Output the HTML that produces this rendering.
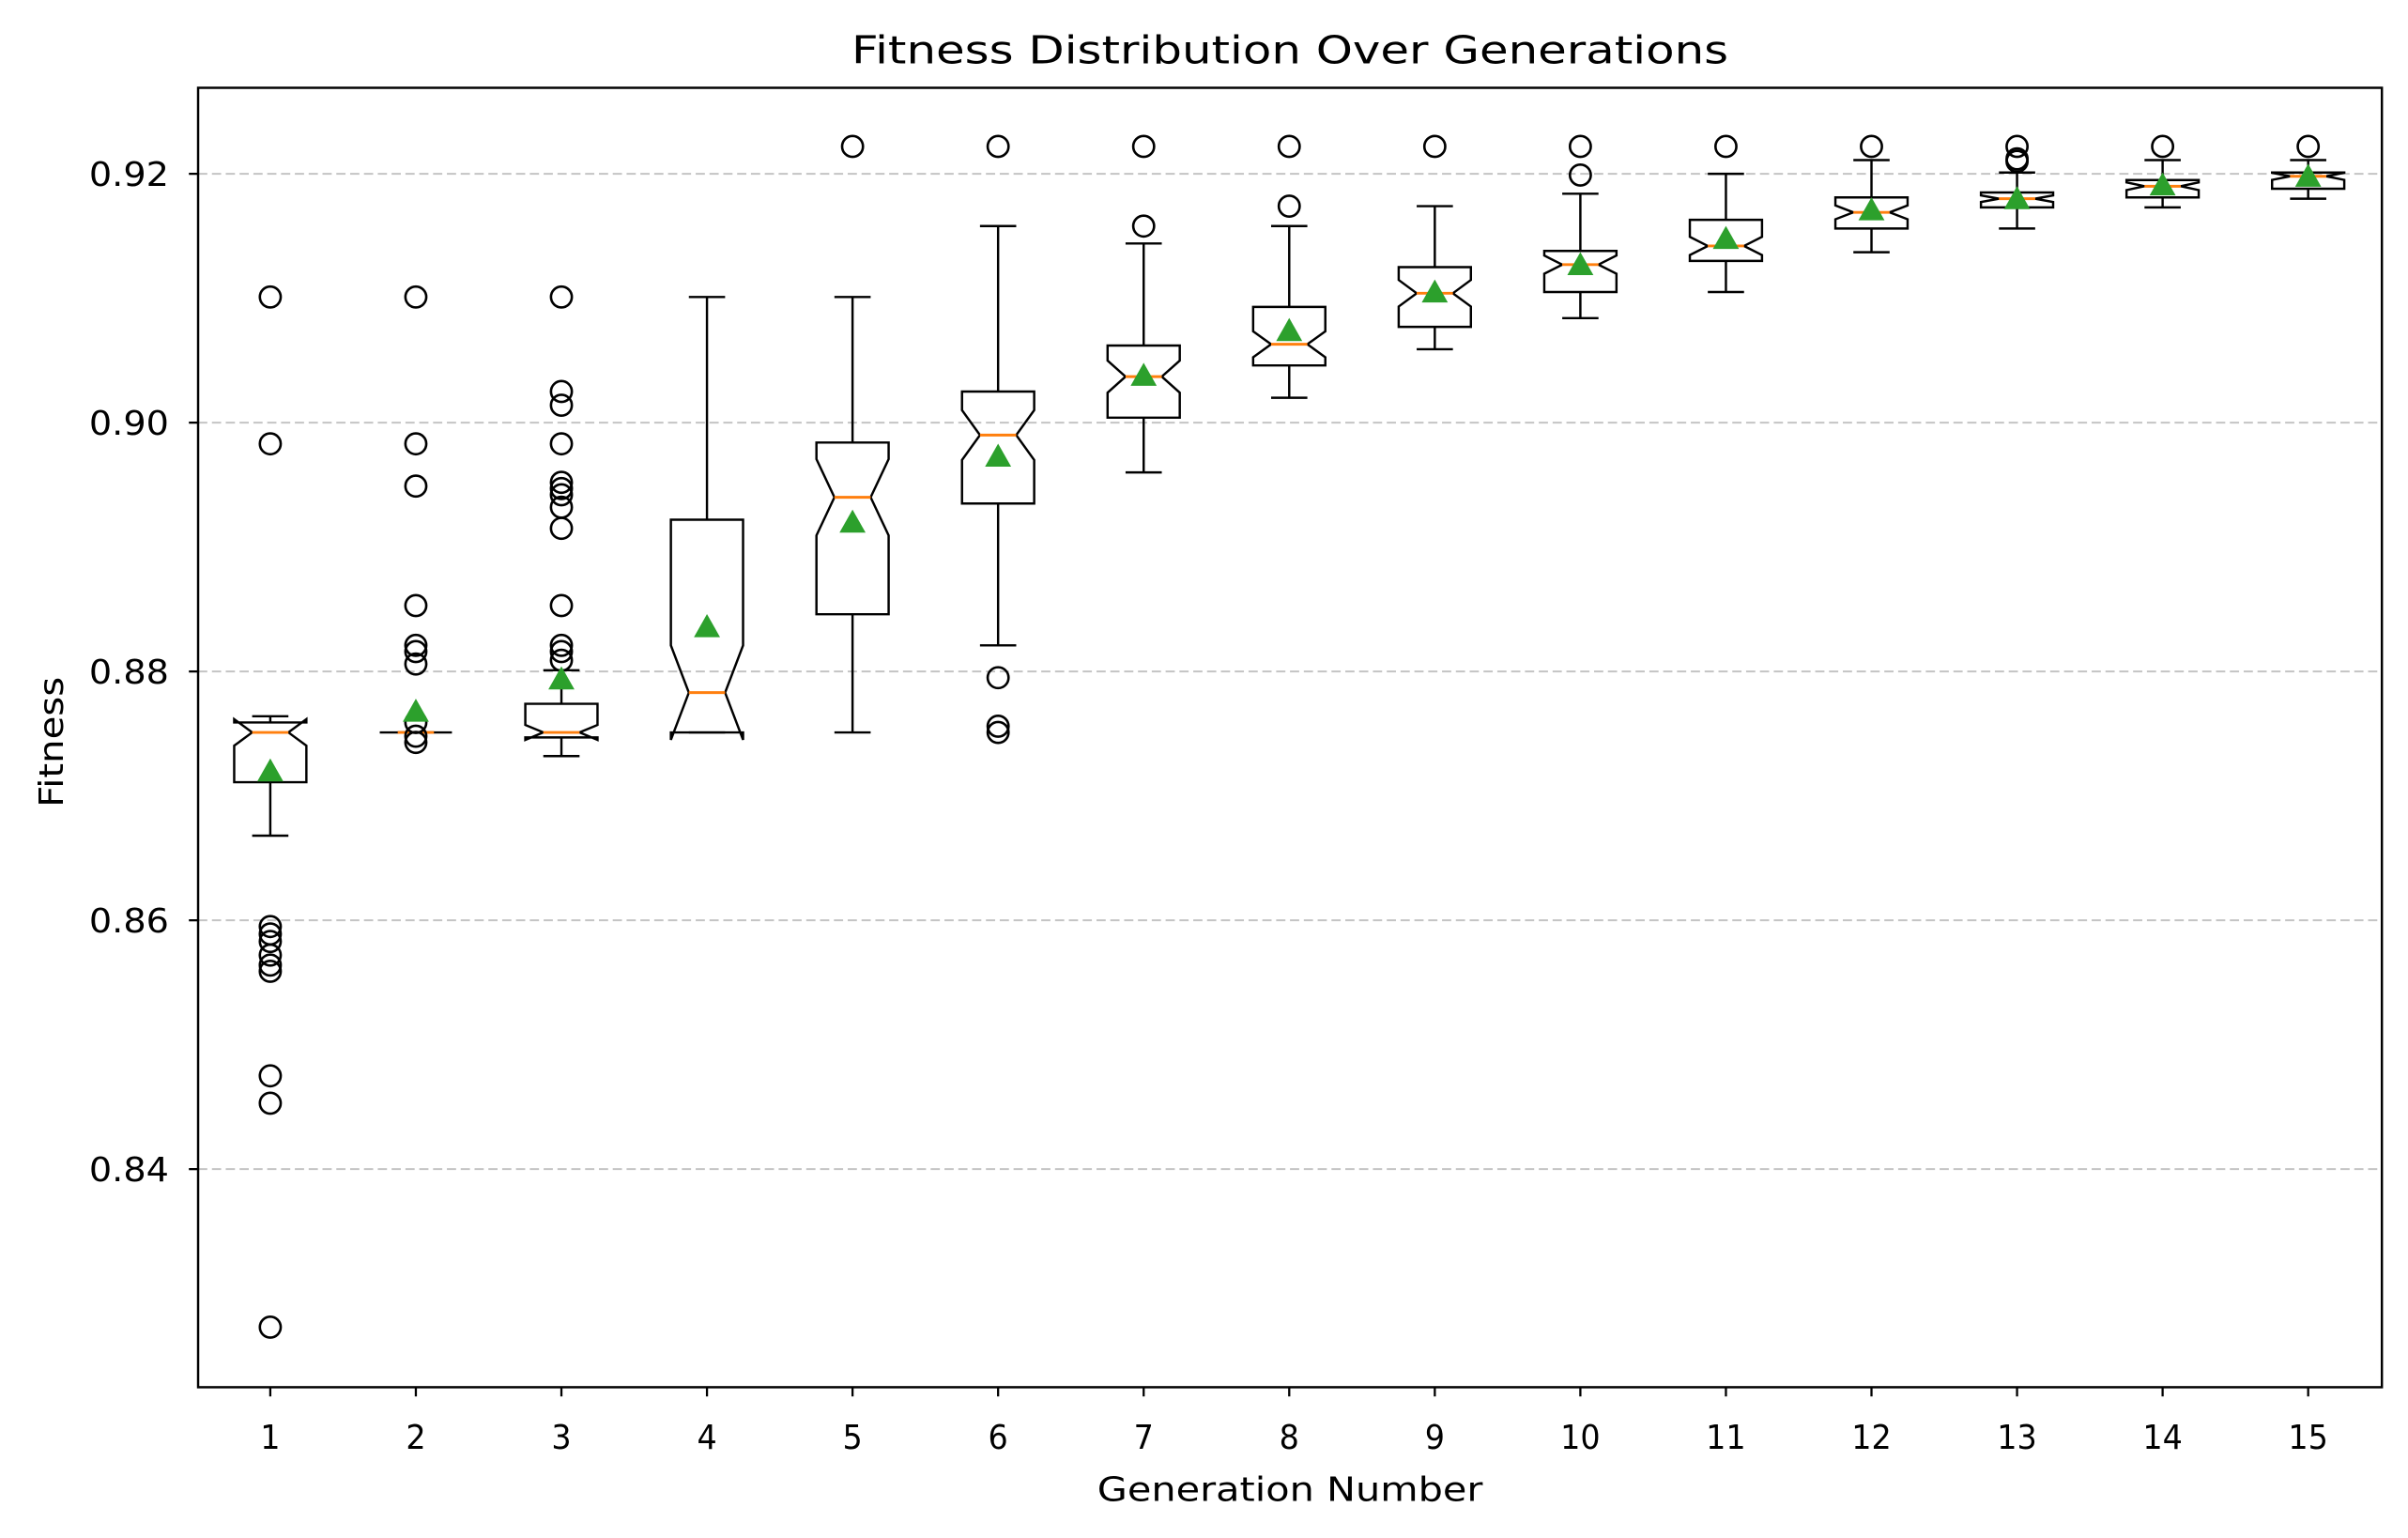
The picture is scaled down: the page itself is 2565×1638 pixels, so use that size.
<!DOCTYPE html>
<html><head><meta charset="utf-8"><style>
html,body{margin:0;padding:0;background:#fff;}
svg{display:block;font-family:"DejaVu Sans","Liberation Sans",sans-serif;}
</style></head><body>
<svg id="chart" width="2565" height="1638" viewBox="0 0 1568 1001" xmlns="http://www.w3.org/2000/svg">
<rect x="0" y="0" width="1568" height="1001" fill="#fff"/>
<text x="840" y="41" font-size="25" text-anchor="middle" textLength="571" lengthAdjust="spacingAndGlyphs">Fitness Distribution Over Generations</text>
<text x="840" y="977" font-size="21.5" text-anchor="middle" textLength="251" lengthAdjust="spacingAndGlyphs">Generation Number</text>
<text x="41" y="483" font-size="21.5" text-anchor="middle" textLength="85" lengthAdjust="spacingAndGlyphs" transform="rotate(-90 41 483)">Fitness</text>
<g id="grid"></g><g id="boxes"></g><g id="axes"></g>
</svg>
<script>
const generations=[1,2,3,4,5,6,7,8,9,10,11,12,13,14,15];
const whiskerHigh=[0.8764,0.8751,0.8801,0.9101,0.9101,0.9158,0.9144,0.9158,0.9174,0.9184,0.9200,0.9211,0.9201,0.9211,0.9211];
const q3Values=[0.8759,0.8751,0.8774,0.8922,0.8984,0.9025,0.9062,0.9093,0.9125,0.9138,0.9163,0.9181,0.9185,0.9195,0.9201];
const medians=[0.8751,0.8751,0.8751,0.8783,0.8940,0.8990,0.9037,0.9063,0.9104,0.9127,0.9142,0.9169,0.9180,0.9190,0.9198];
const q1Values=[0.8711,0.8751,0.8747,0.8751,0.8846,0.8935,0.9004,0.9046,0.9077,0.9105,0.9130,0.9156,0.9173,0.9181,0.9188];
const whiskerLow=[0.8668,0.8751,0.8732,0.8751,0.8751,0.8821,0.8960,0.9020,0.9059,0.9084,0.9105,0.9137,0.9156,0.9173,0.9180];
const means=[0.8719,0.8767,0.8793,0.8835,0.8919,0.8972,0.9037,0.9073,0.9104,0.9126,0.9147,0.9170,0.9179,0.9190,0.9197];
const outliers=[
[0.9101,0.8983,0.8595,0.8589,0.8583,0.8572,0.8564,0.8559,0.8475,0.8453,0.8273],
[0.9101,0.8983,0.8949,0.8853,0.8821,0.8816,0.8806,0.8759,0.8748,0.8743],
[0.9101,0.9025,0.9014,0.8983,0.8952,0.8947,0.8942,0.8932,0.8915,0.8853,0.8821,0.8816,0.8809],
[],
[0.9222],
[0.9222,0.8795,0.8756,0.8751],
[0.9222,0.9158],
[0.9222,0.9174],
[0.9222],
[0.9222,0.9199],
[0.9222],
[0.9222],
[0.9222,0.9212,0.9210],
[0.9222],
[0.9222]];
const yTicks=[0.84,0.86,0.88,0.90,0.92];
const yTickLabels=["0.84","0.86","0.88","0.90","0.92"];
const sampleSize=50;

const L=129,R=1551,T=57,B=903;
function xs(g){return 176+(g-1)*(1503-176)/14;}
function ys(v){return 113+(0.92-v)*8100;}
const NS="http://www.w3.org/2000/svg";
function mk(tag,attrs,parent){const e=document.createElementNS(NS,tag);for(const k in attrs)e.setAttribute(k,attrs[k]);parent.appendChild(e);return e;}
const grid=document.getElementById('grid'),boxes=document.getElementById('boxes'),axes=document.getElementById('axes');

yTicks.forEach((t,i)=>{
  const y=ys(t);
  const gl=mk('line',{x1:L,x2:R,y1:y,y2:y,stroke:'#c4c4c4','stroke-width':1.2,'stroke-dasharray':'6,3'},grid);
  
  
  mk('line',{x1:L-6,x2:L,y1:y,y2:y,stroke:'#000','stroke-width':1.4},axes);
  const tl=mk('text',{x:L-19,y:y+8,'font-size':21.5,'text-anchor':'end',textLength:52,lengthAdjust:'spacingAndGlyphs'},axes);
  tl.textContent=yTickLabels[i];
  
  
});
generations.forEach((g,i)=>{
  const x=xs(g),hw=23.5,cw=11.8,nw=11.8;
  const grp=mk('g',{},boxes);
  
  
  const iqr=q3Values[i]-q1Values[i];
  const nh=1.57*iqr/Math.sqrt(sampleSize);
  const nlo=medians[i]-nh,nhi=medians[i]+nh;
  const st={stroke:'#000','stroke-width':1.5,fill:'none'};
  mk('line',Object.assign({x1:x,x2:x,y1:ys(q3Values[i]),y2:ys(whiskerHigh[i])},st),grp);
  mk('line',Object.assign({x1:x,x2:x,y1:ys(q1Values[i]),y2:ys(whiskerLow[i])},st),grp);
  mk('line',Object.assign({x1:x-cw,x2:x+cw,y1:ys(whiskerHigh[i]),y2:ys(whiskerHigh[i])},st),grp);
  mk('line',Object.assign({x1:x-cw,x2:x+cw,y1:ys(whiskerLow[i]),y2:ys(whiskerLow[i])},st),grp);
  const pts=[[x-hw,ys(q1Values[i])],[x+hw,ys(q1Values[i])],[x+hw,ys(nlo)],[x+nw,ys(medians[i])],[x+hw,ys(nhi)],[x+hw,ys(q3Values[i])],[x-hw,ys(q3Values[i])],[x-hw,ys(nhi)],[x-nw,ys(medians[i])],[x-hw,ys(nlo)]];
  mk('polygon',{points:pts.map(p=>p.join(',')).join(' '),stroke:'#000','stroke-width':1.5,fill:'none','stroke-linejoin':'miter'},grp);
  mk('line',{x1:x-nw,x2:x+nw,y1:ys(medians[i]),y2:ys(medians[i]),stroke:'#ff7f0e','stroke-width':1.8},grp);
  outliers[i].forEach(v=>{
    const c=mk('circle',{cx:x,cy:ys(v),r:6.8,fill:'none',stroke:'#000','stroke-width':1.6},grp);
    
    
  });
  const my=ys(means[i]);
  const tri=mk('polygon',{points:`${x},${my-9} ${x-8.5},${my+6} ${x+8.5},${my+6}`,fill:'#2ca02c'},grp);
  
  
  mk('line',{x1:x,x2:x,y1:B,y2:B+6,stroke:'#000','stroke-width':1.4},axes);
  const lab=String(g);
  const xl=mk('text',{x:x,y:B+40,'font-size':21.5,'text-anchor':'middle',textLength:(lab.length*13),lengthAdjust:'spacingAndGlyphs'},axes);
  xl.textContent=lab;
  
  
});
const fr=mk('rect',{x:L,y:T,width:R-L,height:B-T,fill:'none',stroke:'#000','stroke-width':1.5},axes);


</script>
</body></html>
